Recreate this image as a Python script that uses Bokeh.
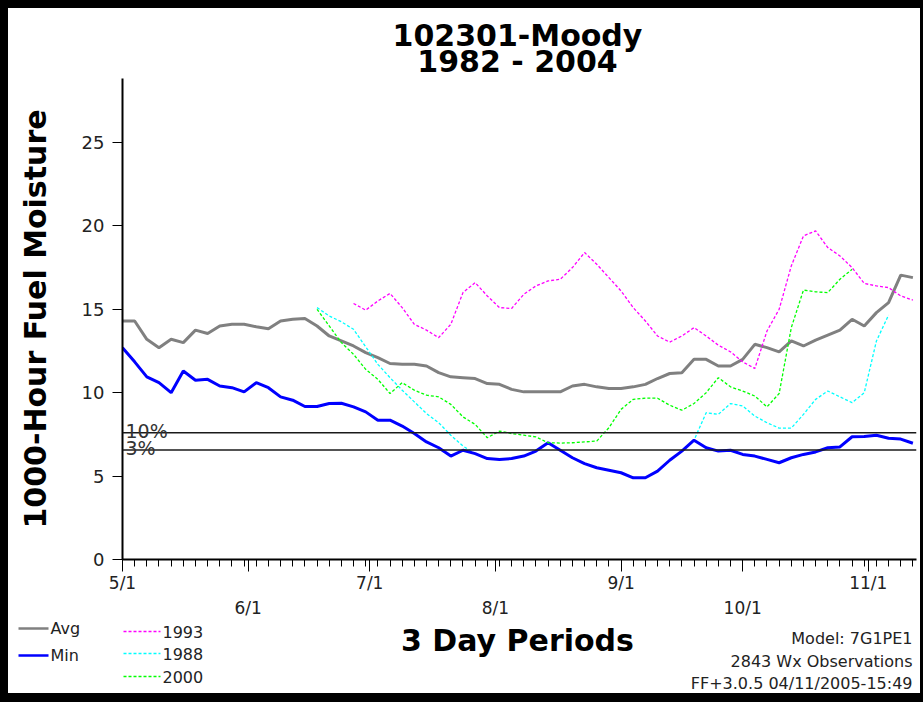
import numpy as np
from bokeh.plotting import figure
from bokeh.models import Range1d, FixedTicker, LinearAxis, Label, Span
from bokeh.layouts import column
from bokeh.core.properties import value
from bokeh.embed import file_html
from bokeh.resources import INLINE

# ---------------- data ----------------
periods = list(range(66))                      # 3-day period index starting 5/1
month_start_days = [0, 31, 61, 92, 123, 153, 184]
month_labels = ["5/1", "6/1", "7/1", "8/1", "9/1", "10/1", "11/1"]
upper_row_labels = ["5/1", "7/1", "9/1", "11/1"]
y_ticks = [0, 5, 10, 15, 20, 25]

avg = [14.3, 14.3, 13.2, 12.7, 13.2, 13.0, 13.75, 13.55, 14.0, 14.1,
       14.1, 13.95, 13.83, 14.3, 14.4, 14.45, 14.0, 13.4, 13.1, 12.8,
       12.4, 12.1, 11.75, 11.7, 11.7, 11.6, 11.2, 10.95, 10.9, 10.85,
       10.55, 10.5, 10.2, 10.05, 10.05, 10.05, 10.05, 10.4, 10.5, 10.35,
       10.25, 10.25, 10.35, 10.5, 10.85, 11.15, 11.2, 12.0, 12.0, 11.6,
       11.6, 12.0, 12.9, 12.7, 12.45, 13.1, 12.8, 13.15, 13.45, 13.75,
       14.4, 14.0, 14.8, 15.4, 17.05, 16.9]

minimum = [12.7, 11.85, 10.95, 10.6, 10.0, 11.3, 10.75, 10.8, 10.4, 10.3,
           10.05, 10.6, 10.3, 9.75, 9.55, 9.17, 9.17, 9.35, 9.37, 9.15,
           8.85, 8.35, 8.35, 8.0, 7.55, 7.05, 6.7, 6.2, 6.55, 6.35,
           6.05, 6.0, 6.05, 6.2, 6.5, 7.0, 6.55, 6.1, 5.75, 5.5,
           5.35, 5.2, 4.9, 4.9, 5.3, 5.95, 6.5, 7.15, 6.7, 6.5,
           6.55, 6.3, 6.2, 6.0, 5.8, 6.1, 6.3, 6.45, 6.7, 6.75,
           7.36, 7.38, 7.45, 7.27, 7.22, 6.97]

y1993_start = 19
y1993 = [15.35, 14.95, 15.5, 15.95, 15.1, 14.1, 13.75, 13.3, 14.1, 16.0, 16.6,
         15.8, 15.1, 15.05, 15.9, 16.4, 16.7, 16.8, 17.5, 18.4, 17.7,
         16.9, 16.1, 15.1, 14.3, 13.4, 13.03, 13.4, 13.9, 13.4, 12.85,
         12.45, 11.85, 11.45, 13.7, 15.0, 17.6, 19.4, 19.7, 18.7, 18.2,
         17.5, 16.55, 16.4, 16.3, 15.8, 15.55]

y1988_start = 16
y1988 = [15.1, 14.6, 14.25, 13.8,
         12.75, 11.7, 10.9, 10.15, 9.45, 8.75, 8.2, 7.45, 6.8, 6.35,
         6.05, 6.0, 6.05, 6.2, 6.5, 7.0, 6.55, 6.1, 5.75, 5.5,
         5.35, 5.2, 4.9, 4.9, 5.3, 5.95, 6.5, 7.15, 8.8, 8.7,
         9.35, 9.2, 8.6, 8.2, 7.88, 7.88, 8.7, 9.6, 10.1, 9.75,
         9.4, 10.0, 13.1, 14.65]

y2000_start = 16
y2000 = [15.0, 14.0, 13.0, 12.3,
         11.4, 10.8, 9.95, 10.6, 10.15, 9.85, 9.75, 9.3, 8.55, 8.1,
         7.3, 7.7, 7.55, 7.45, 7.35, 7.0, 6.98, 7.0, 7.05, 7.1,
         7.9, 9.0, 9.6, 9.67, 9.67, 9.25, 8.95, 9.35, 10.0, 10.9,
         10.35, 10.1, 9.8, 9.15, 9.95, 13.9, 16.15, 16.05, 16.0, 16.8,
         17.4]

threshold_values = [7.6, 6.57]
threshold_labels = ["10%", "3%"]

title_lines = ["102301-Moody", "1982 - 2004"]
legend_names = ["Avg", "Min", "1993", "1988", "2000"]
legend_colors = ["#808080", "#0000ff", "#ff00ff", "#00ffff", "#00ff00"]
info_lines = ["Model: 7G1PE1", "2843 Wx Observations", "FF+3.0.5 04/11/2005-15:49"]

# ---------------- layout (page pixels) ----------------
FRAME_L, FRAME_R, FRAME_T, FRAME_B = 122, 916, 78, 561
PX_PER_PERIOD = 12.16
PX_PER_UNIT = 16.75
XMAX = (FRAME_R - FRAME_L) / PX_PER_PERIOD
YMAX = (FRAME_B - FRAME_T) / PX_PER_UNIT


def px(xp):
    return (xp - FRAME_L) / PX_PER_PERIOD


FONT = "DejaVu Sans"
TXT = "#222222"


def strip(height, y_top, y_bottom):
    """Plain text strip whose data coordinates are page pixels."""
    f = figure(width=912, height=height, x_range=Range1d(8, 920),
               y_range=Range1d(y_bottom, y_top), output_backend="svg",
               toolbar_location=None, x_axis_type=None, y_axis_type=None, min_border=0)
    f.outline_line_color = None
    f.background_fill_color = "white"
    f.border_fill_color = "white"
    f.grid.visible = False
    return f


# top strip with the title: page y 8..78
p0 = strip(70, 8, 78)
for t, yy in zip(title_lines, [35, 61]):
    p0.text(x=[517], y=[yy], text=[t], text_align="center", text_baseline="middle",
            text_font=value(FONT), text_font_size="30px", text_font_style="bold",
            text_color="black")

# main chart: page y 78..620
p = figure(width=912, height=542,
           x_range=Range1d(0, XMAX), y_range=Range1d(0, YMAX),
           output_backend="svg", toolbar_location=None,
           min_border_left=114, min_border_right=4,
           min_border_top=0, min_border_bottom=59)
p.xgrid.visible = False
p.ygrid.visible = False
p.outline_line_color = None
p.background_fill_color = "white"
p.border_fill_color = "white"

month_pos = [d / 3.0 for d in month_start_days]

xa = p.xaxis[0]
xa.ticker = FixedTicker(ticks=month_pos, minor_ticks=periods)
xa.major_label_overrides = {pos: (lab if lab in upper_row_labels else "")
                            for pos, lab in zip(month_pos, month_labels)}
xa.major_tick_out = 12
xa.major_tick_in = 0
xa.minor_tick_out = 7
xa.minor_tick_in = 0
xa.axis_line_width = 2
xa.axis_line_color = "black"
xa.major_tick_line_color = "black"
xa.minor_tick_line_color = "black"
xa.major_label_standoff = 1
xa.major_label_text_font = FONT
xa.major_label_text_font_size = "17px"
xa.major_label_text_color = TXT

lower_pos = [pos for pos, lab in zip(month_pos, month_labels) if lab not in upper_row_labels]
xa2 = LinearAxis(ticker=FixedTicker(ticks=lower_pos, minor_ticks=[]))
xa2.major_label_overrides = {pos: lab for pos, lab in zip(month_pos, month_labels)
                             if lab not in upper_row_labels}
xa2.axis_line_color = None
xa2.major_tick_line_color = None
xa2.minor_tick_line_color = None
xa2.major_tick_out = 0
xa2.major_tick_in = 0
xa2.minor_tick_out = 0
xa2.minor_tick_in = 0
xa2.major_label_standoff = 2
xa2.major_label_text_font = FONT
xa2.major_label_text_font_size = "17px"
xa2.major_label_text_color = TXT
p.add_layout(xa2, "below")

ya = p.yaxis[0]
ya.ticker = FixedTicker(ticks=y_ticks, minor_ticks=[])
ya.major_tick_out = 10
ya.major_tick_in = 0
ya.minor_tick_out = 0
ya.axis_line_width = 2
ya.axis_line_color = "black"
ya.major_tick_line_color = "black"
ya.major_label_standoff = 8
ya.major_label_text_font = FONT
ya.major_label_text_font_size = "18px"
ya.major_label_text_color = TXT
ya.axis_label = "1000-Hour Fuel Moisture"
ya.axis_label_text_font = FONT
ya.axis_label_text_font_size = "30px"
ya.axis_label_text_font_style = "bold"
ya.axis_label_text_color = "black"
ya.axis_label_standoff = 26

for val, lab in zip(threshold_values, threshold_labels):
    p.add_layout(Span(location=val, dimension="width", line_color="#1a1a1a", line_width=1.5))
    p.add_layout(Label(x=px(125), y=val, text=lab, text_align="left",
                       text_baseline="alphabetic", y_offset=2,
                       text_font=FONT, text_font_size="19px", text_color="#333333"))

x1988 = periods[y1988_start:y1988_start + len(y1988)]
x2000 = periods[y2000_start:y2000_start + len(y2000)]
x1993 = periods[y1993_start:y1993_start + len(y1993)]

p.line(periods, avg, line_color=legend_colors[0], line_width=3)
p.line(x1988, y1988, line_color=legend_colors[3], line_width=1.3, line_dash="3 2")
p.line(periods, minimum, line_color=legend_colors[1], line_width=3)
p.line(x2000, y2000, line_color=legend_colors[4], line_width=1.3, line_dash="3 2")
p.line(x1993, y1993, line_color=legend_colors[2], line_width=1.3, line_dash="3 2")

# bottom strip: page y 620..693
p2 = strip(73, 620, 693)
p2.text(x=[517], y=[640], text=["3 Day Periods"], text_align="center",
        text_baseline="middle", text_font=value(FONT), text_font_size="30px",
        text_font_style="bold", text_color="black")

legend_geom = [  # x0, x1, y, width, dash
    (18, 48, 628, 2.5, "solid"),
    (18, 48, 655, 2.5, "solid"),
    (123, 160, 631, 1.3, "3 2"),
    (123, 160, 653, 1.3, "3 2"),
    (123, 160, 676, 1.3, "3 2"),
]
for name, color, (x0, x1, yy, lw, dash) in zip(legend_names, legend_colors, legend_geom):
    p2.line([x0, x1], [yy, yy], line_color=color, line_width=lw, line_dash=dash)
    p2.text(x=[x1 + 2], y=[yy], text=[name], text_align="left", text_baseline="middle",
            text_font=value(FONT), text_font_size="16px", text_color=TXT)

for t, yy in zip(info_lines, [638, 661, 683]):
    p2.text(x=[912], y=[yy], text=[t], text_align="right", text_baseline="middle",
            text_font=value(FONT), text_font_size="16px", text_color=TXT)

for fig in (p0, p, p2):
    if "frame_align" in fig.properties():
        fig.frame_align = False

inner = column(p0, p, p2, spacing=0, styles={"background-color": "white"})
inner.margin = (8, 3, 9, 8)
layout = column(inner, styles={"background-color": "black"})

open("out.html", "w").write(file_html(layout, INLINE))
